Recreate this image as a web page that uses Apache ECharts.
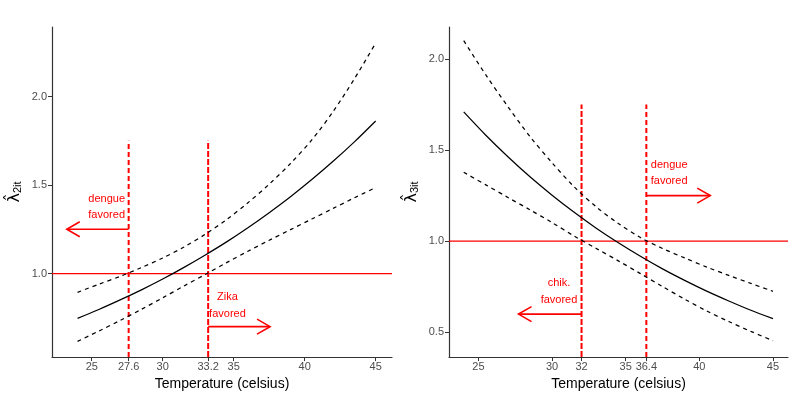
<!DOCTYPE html>
<html>
<head>
<meta charset="utf-8">
<script src="https://cdn.jsdelivr.net/npm/echarts@6/dist/echarts.min.js"></script>
<style>
html,body{margin:0;padding:0;background:#fff;}
#main{width:793px;height:396px;}
</style>
</head>
<body>
<div id="main"></div>
<script>
// temperatures where the curves were read
var temps = [24, 25.5, 27, 28.5, 30, 31.5, 33, 34.5, 36, 37.5, 39, 40.5, 42, 43.5, 45];

// left panel: lambda 2it (dengue vs Zika)
var fitL = [0.747, 0.797, 0.851, 0.908, 0.969, 1.035, 1.105, 1.179, 1.259, 1.344, 1.434, 1.531, 1.634, 1.744, 1.862];
var upperL = [0.894, 0.940, 0.984, 1.034, 1.088, 1.150, 1.222, 1.305, 1.400, 1.505, 1.622, 1.755, 1.915, 2.100, 2.302];
var lowerL = [0.617, 0.675, 0.735, 0.798, 0.863, 0.930, 0.995, 1.062, 1.126, 1.188, 1.248, 1.308, 1.368, 1.428, 1.486];
var ticksL = [25, 27.6, 30, 33.2, 35, 40, 45];
var yTicksL = [1.0, 1.5, 2.0];
var cutsL = [27.6, 33.2];
var arrowsL = [[27.6, 1.25, 23.24, 1.25], [33.2, 0.70, 37.56, 0.70]];
var noteXL = [26.05, 34.56];
var noteYL = [1.375, 0.82];
var noteTextL = ['dengue\nfavored', 'Zika\nfavored'];

// right panel: lambda 3it (dengue vs chikungunya)
var fitR = [1.709, 1.581, 1.463, 1.353, 1.252, 1.158, 1.071, 0.991, 0.917, 0.848, 0.785, 0.726, 0.672, 0.621, 0.575];
var upperR = [2.100, 1.912, 1.738, 1.574, 1.430, 1.298, 1.188, 1.097, 1.020, 0.960, 0.908, 0.858, 0.812, 0.768, 0.725];
var lowerR = [1.378, 1.309, 1.240, 1.172, 1.102, 1.028, 0.960, 0.892, 0.822, 0.751, 0.682, 0.617, 0.559, 0.505, 0.454];
var ticksR = [25, 30, 32, 35, 36.4, 40, 45];
var yTicksR = [0.5, 1.0, 1.5, 2.0];
var cutsR = [32, 36.4];
var arrowsR = [[36.4, 1.25, 40.74, 1.25], [32, 0.60, 27.72, 0.60]];
var noteXR = [37.95, 30.47];
var noteYR = [1.374, 0.724];
var noteTextR = ['dengue\nfavored', 'chik.\nfavored'];

var cutTop = 1.75;
var ref = 1.0;

var xMinL = 22.2, xMaxL = 46.15, yMinL = 0.528, yMaxL = 2.393;
var xMinR = 23.0, xMaxR = 46.02, yMinR = 0.364, yMaxR = 2.175;

var FONT = "'Liberation Sans', Arial, sans-serif";
var RED = '#ff0000';

var chart = echarts.init(document.getElementById('main'));

function pairs(xs, ys) {
	return xs.map(function (x, i) { return [x, ys[i]]; });
}

function curve(idx, vals, dashed) {
	return {
		type: 'line',
		xAxisIndex: idx,
		yAxisIndex: idx,
		data: pairs(temps, vals),
		showSymbol: false,
		smooth: 0.3,
		silent: true,
		z: 4,
		lineStyle: { color: '#000', width: 1.25, type: dashed ? [4, 4] : 'solid' }
	};
}

// horizontal reference line at 1
function refLine(idx, x0, x1) {
	return {
		type: 'line',
		xAxisIndex: idx,
		yAxisIndex: idx,
		data: [[x0, ref], [x1, ref]],
		showSymbol: false,
		silent: true,
		z: 3,
		lineStyle: { color: RED, width: 1.2, type: 'solid' }
	};
}

function cutLine(idx, x, yMin, dash) {
	return {
		type: 'line',
		xAxisIndex: idx,
		yAxisIndex: idx,
		data: [[x, yMin], [x, cutTop]],
		showSymbol: false,
		silent: true,
		z: 3,
		lineStyle: { color: RED, width: 2, type: dash }
	};
}

function arrows(idx, data) {
	return {
		type: 'custom',
		xAxisIndex: idx,
		yAxisIndex: idx,
		silent: true,
		z: 5,
		encode: { x: [0, 2], y: [1, 3] },
		data: data,
		renderItem: function (params, api) {
			var p1 = api.coord([api.value(0), api.value(1)]);
			var p2 = api.coord([api.value(2), api.value(3)]);
			var dir = p2[0] > p1[0] ? 1 : -1;
			var hl = 13, hw = 7.5;
			return {
				type: 'group',
				children: [
					{ type: 'line', shape: { x1: p1[0], y1: p1[1], x2: p2[0], y2: p2[1] },
						style: { stroke: RED, lineWidth: 1.6 } },
					{ type: 'polyline', shape: { points: [[p2[0] - dir * hl, p2[1] - hw], [p2[0], p2[1]], [p2[0] - dir * hl, p2[1] + hw]] },
						style: { stroke: RED, lineWidth: 1.6, fill: null } }
				]
			};
		}
	};
}

function notes(idx, xs, ys, texts) {
	return {
		type: 'custom',
		xAxisIndex: idx,
		yAxisIndex: idx,
		silent: true,
		z: 5,
		data: pairs(xs, ys),
		renderItem: function (params, api) {
			var p = api.coord([api.value(0), api.value(1)]);
			return {
				type: 'text',
				x: p[0],
				y: p[1],
				style: {
					text: texts[params.dataIndex],
					fill: RED,
					fontSize: 11,
					fontFamily: FONT,
					align: 'center',
					verticalAlign: 'middle',
					lineHeight: 16.5
				}
			};
		}
	};
}

function xAxis(idx, min, max, ticks) {
	return {
		gridIndex: idx,
		type: 'value',
		min: min,
		max: max,
		name: 'Temperature (celsius)',
		nameLocation: 'middle',
		nameGap: 17,
		nameTextStyle: { fontSize: 14, color: '#000', fontFamily: FONT },
		axisLine: { show: true, onZero: false, lineStyle: { color: '#333', width: 1.2 } },
		axisTick: { show: true, length: 4, customValues: ticks, lineStyle: { color: '#333', width: 1 } },
		axisLabel: { customValues: ticks, color: '#4d4d4d', fontSize: 11, fontFamily: FONT, margin: 4,
			formatter: function (v) { return String(v); } },
		splitLine: { show: false }
	};
}

function yAxis(idx, min, max, ticks, sub) {
	return {
		gridIndex: idx,
		type: 'value',
		min: min,
		max: max,
		name: '{h|λ\u0302}{s|' + sub + '}',
		nameLocation: 'middle',
		nameRotate: 90,
		nameGap: 29,
		nameTextStyle: {
			color: '#000',
			rich: {
				h: { fontSize: 16, fontFamily: "'DejaVu Sans', sans-serif", color: '#000' },
				s: { fontSize: 11, fontFamily: FONT, color: '#000', verticalAlign: 'bottom', padding: [6, 0, 0, 0] }
			}
		},
		axisLine: { show: true, onZero: false, lineStyle: { color: '#333', width: 1.2 } },
		axisTick: { show: true, length: 4, customValues: ticks, lineStyle: { color: '#333', width: 1 } },
		axisLabel: { customValues: ticks, color: '#4d4d4d', fontSize: 11, fontFamily: FONT, margin: 5,
			formatter: function (v) { return v.toFixed(1); } },
		splitLine: { show: false }
	};
}

var option = {
	animation: false,
	backgroundColor: '#fff',
	grid: [
		{ left: 52, right: 401, top: 27, bottom: 37 },
		{ left: 449, right: 5, top: 27, bottom: 37 }
	],
	xAxis: [xAxis(0, xMinL, xMaxL, ticksL), xAxis(1, xMinR, xMaxR, ticksR)],
	yAxis: [yAxis(0, yMinL, yMaxL, yTicksL, '2it'), yAxis(1, yMinR, yMaxR, yTicksR, '3it')],
	series: [
		refLine(0, xMinL, xMaxL),
		curve(0, fitL, false),
		curve(0, upperL, true),
		curve(0, lowerL, true),
		cutLine(0, cutsL[0], yMinL, [5, 3]),
		cutLine(0, cutsL[1], yMinL, [6, 2]),
		arrows(0, arrowsL),
		notes(0, noteXL, noteYL, noteTextL),
		refLine(1, xMinR, xMaxR),
		curve(1, fitR, false),
		curve(1, upperR, true),
		curve(1, lowerR, true),
		cutLine(1, cutsR[0], yMinR, [6, 2]),
		cutLine(1, cutsR[1], yMinR, [5, 3]),
		arrows(1, arrowsR),
		notes(1, noteXR, noteYR, noteTextR)
	]
};

chart.setOption(option);
</script>
</body>
</html>
